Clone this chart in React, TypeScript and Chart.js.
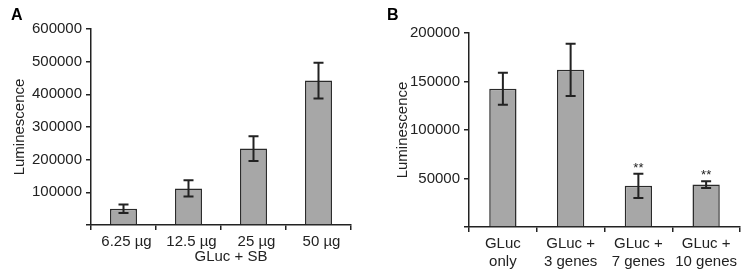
import React, { useEffect, useRef } from "react";
import { Chart, registerables } from "chart.js";

Chart.register(...registerables);

const categoriesA = ["6.25 µg", "12.5 µg", "25 µg", "50 µg"];
const valuesA = [50000, 112000, 234000, 442000];
const errorsA = [13000, 25000, 38000, 55000];
const yMaxA = 600000;
const yStepA = 100000;

const categoriesB = [
  ["GLuc", "only"],
  ["GLuc +", "3 genes"],
  ["GLuc +", "7 genes"],
  ["GLuc +", "10 genes"],
];
const valuesB = [142500, 162000, 42500, 43700];
const errorsB = [16500, 27000, 12500, 3500];
const starsB = ["", "", "**", "**"];
const yMaxB = 200000;
const yStepB = 50000;

const FONT = "'Liberation Sans', Arial, sans-serif";
const INK = "#222";

function makeAnnotPlugin(errors: number[], stars: string[], letter: string, letterX: number, xTitle: string | null, xTitleShift: number) {
  return {
    id: "annot" + letter,
    afterDatasetsDraw(chart: any) {
      const ctx = chart.ctx;
      const meta = chart.getDatasetMeta(0);
      const ys = chart.scales.y;
      const vals = chart.data.datasets[0].data as number[];
      ctx.save();
      ctx.strokeStyle = INK;
      ctx.lineWidth = 2;
      meta.data.forEach((bar: any, i: number) => {
        const x = bar.x;
        const top = ys.getPixelForValue(vals[i] + errors[i]);
        const bot = ys.getPixelForValue(vals[i] - errors[i]);
        ctx.beginPath();
        ctx.moveTo(x, top);
        ctx.lineTo(x, bot);
        ctx.moveTo(x - 5, top);
        ctx.lineTo(x + 5, top);
        ctx.moveTo(x - 5, bot);
        ctx.lineTo(x + 5, bot);
        ctx.stroke();
        if (stars[i]) {
          ctx.fillStyle = INK;
          ctx.font = `13px ${FONT}`;
          ctx.textAlign = "center";
          ctx.textBaseline = "alphabetic";
          ctx.fillText(stars[i], x, top - 2);
        }
      });
      ctx.fillStyle = "#000";
      ctx.font = `bold 16px ${FONT}`;
      ctx.textAlign = "left";
      ctx.textBaseline = "alphabetic";
      ctx.fillText(letter, letterX, 20);
      if (xTitle) {
        const ca = chart.chartArea;
        ctx.fillStyle = INK;
        ctx.font = `15px ${FONT}`;
        ctx.textAlign = "center";
        ctx.textBaseline = "middle";
        ctx.fillText(xTitle, (ca.left + ca.right) / 2 + xTitleShift, 257);
      }
      ctx.restore();
    },
  };
}

function makeConfig(opts: {
  labels: any[];
  values: number[];
  yMax: number;
  yStep: number;
  padTop: number;
  padRight: number;
  xHeight: number;
  yWidth: number;
  yTitlePad: number;
  barPct: number;
  labelOffset: number;
  plugin: any;
}) {
  return {
    type: "bar" as const,
    data: {
      labels: opts.labels,
      datasets: [
        {
          data: opts.values,
          backgroundColor: "#a7a7a7",
          borderColor: "#2a2a2a",
          borderWidth: 1.5,
          categoryPercentage: 1,
          barPercentage: opts.barPct,
        },
      ],
    },
    options: {
      responsive: false,
      animation: false as const,
      layout: { padding: { left: 0, right: opts.padRight, top: opts.padTop, bottom: 0 } },
      plugins: { legend: { display: false }, tooltip: { enabled: false } },
      scales: {
        x: {
          offset: true,
          afterFit: (s: any) => {
            s.height = opts.xHeight;
          },
          grid: {
            offset: true,
            drawOnChartArea: false,
            drawTicks: true,
            tickLength: 5,
            color: INK,
            lineWidth: 1.5,
          },
          border: { display: true, color: INK, width: 1.5 },
          ticks: {
            color: INK,
            font: { family: FONT, size: 15 },
            padding: 3,
            maxRotation: 0,
            autoSkip: false,
            labelOffset: opts.labelOffset,
          },
        },
        y: {
          min: 0,
          max: opts.yMax,
          afterFit: (s: any) => {
            s.width = opts.yWidth;
          },
          grid: {
            drawOnChartArea: false,
            drawTicks: true,
            tickLength: 5,
            color: INK,
            lineWidth: 1.5,
          },
          border: { display: true, color: INK, width: 1.5 },
          ticks: {
            stepSize: opts.yStep,
            color: INK,
            font: { family: FONT, size: 15 },
            padding: 4,
            callback: (v: any) => (Number(v) === 0 ? "" : String(v)),
          },
          title: {
            display: true,
            text: "Luminescence",
            color: INK,
            font: { family: FONT, size: 15 },
            padding: { top: opts.yTitlePad, bottom: 0 },
          },
        },
      },
    },
    plugins: [opts.plugin],
  };
}

export default function App() {
  const refA = useRef<HTMLCanvasElement>(null);
  const refB = useRef<HTMLCanvasElement>(null);

  useEffect(() => {
    document.body.style.margin = "0";
    const a = new Chart(
      refA.current!,
      makeConfig({
        labels: categoriesA,
        values: valuesA,
        yMax: yMaxA,
        yStep: yStepA,
        padTop: 29,
        padRight: 21,
        xHeight: 44,
        yWidth: 91,
        yTitlePad: 11,
        barPct: 0.415,
        labelOffset: 3,
        plugin: makeAnnotPlugin(errorsA, ["", "", "", ""], "A", 11, "GLuc + SB", 10),
      }) as any
    );
    const b = new Chart(
      refB.current!,
      makeConfig({
        labels: categoriesB,
        values: valuesB,
        yMax: yMaxB,
        yStep: yStepB,
        padTop: 33,
        padRight: 7,
        xHeight: 42,
        yWidth: 94,
        yTitlePad: 19,
        barPct: 0.403,
        labelOffset: 0,
        plugin: makeAnnotPlugin(errorsB, starsB, "B", 12, null, 0),
      }) as any
    );
    return () => {
      a.destroy();
      b.destroy();
    };
  }, []);

  return (
    <div style={{ position: "fixed", left: 0, top: 0, width: 747, height: 269, background: "#fff" }}>
      <canvas ref={refA} width={372} height={269} style={{ position: "absolute", left: 0, top: 0 }} />
      <canvas ref={refB} width={372} height={269} style={{ position: "absolute", left: 375, top: 0 }} />
    </div>
  );
}
